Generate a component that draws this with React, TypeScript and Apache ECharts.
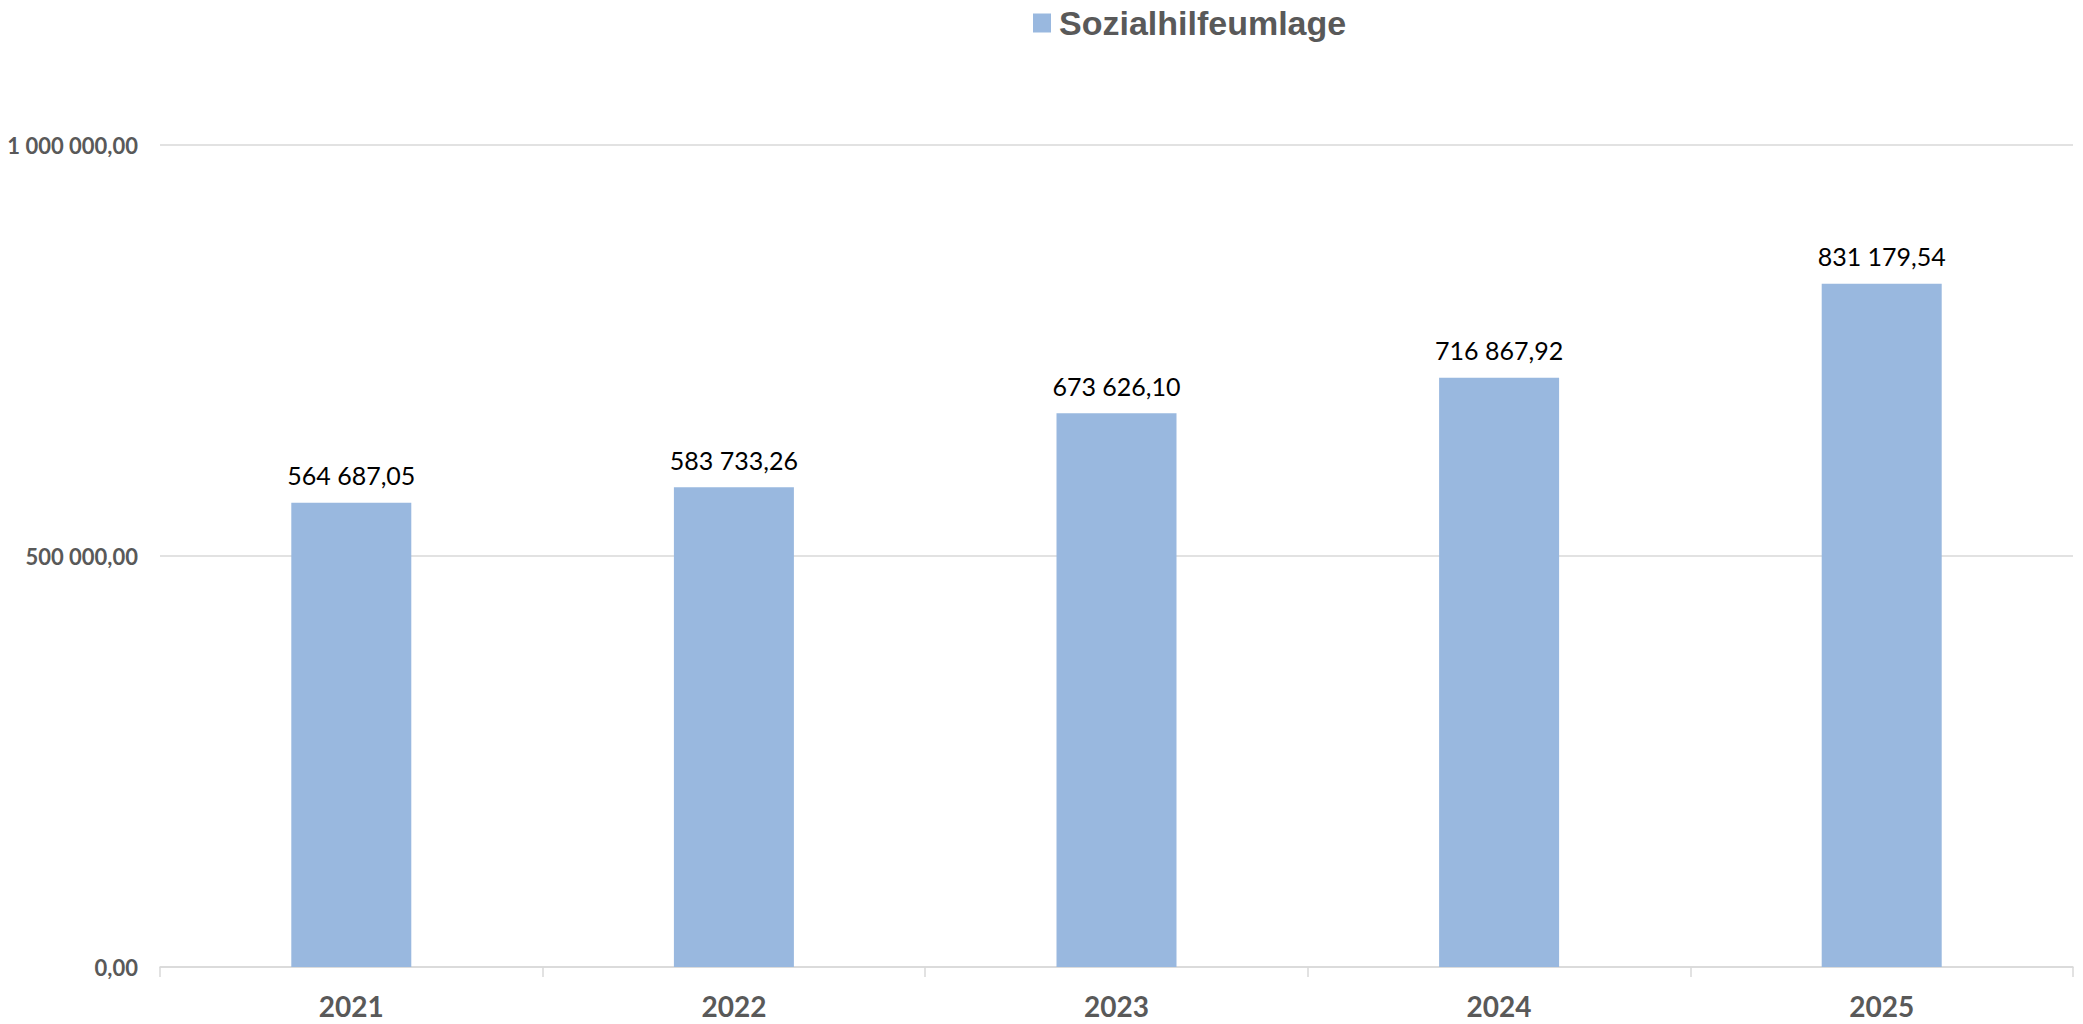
import React, { useEffect, useRef } from "react";
import * as echarts from "echarts";

const categories = ["2021", "2022", "2023", "2024", "2025"];
const seriesName = "Sozialhilfeumlage";
const values = [564687.05, 583733.26, 673626.1, 716867.92, 831179.54];
const yMin = 0;
const yMax = 1000000;
const yInterval = 500000;

function fmt(v: number): string {
  const [i, d] = Math.abs(v).toFixed(2).split(".");
  const grouped = i.replace(/\B(?=(\d{3})+(?!\d))/g, " ");
  return (v < 0 ? "-" : "") + grouped + "," + d;
}

export default function App() {
  const ref = useRef<HTMLDivElement>(null);
  useEffect(() => {
    if (!ref.current) return;
    const chart = echarts.init(ref.current, null, { renderer: "svg" });
    chart.setOption({
      animation: false,
      backgroundColor: "#ffffff",
      legend: {
        show: true,
        left: 1033,
        top: 5,
        padding: 0,
        icon: "rect",
        itemWidth: 18,
        itemHeight: 19,
        data: [seriesName],
        textStyle: {
          fontFamily: "Liberation Sans",
          fontWeight: "bold",
          fontSize: 34,
          color: "#595959",
          lineHeight: 36,
          padding: [0, 0, 0, 3],
        },
      },
      grid: { left: 160, right: 10, top: 145, bottom: 57, containLabel: false },
      xAxis: {
        type: "category",
        data: categories,
        boundaryGap: true,
        axisLine: { show: true, lineStyle: { color: "#d9d9d9", width: 1.5 } },
        axisTick: { show: true, length: 10, alignWithLabel: false, lineStyle: { color: "#d9d9d9", width: 1.5 } },
        axisLabel: {
          margin: 25,
          fontFamily: "Lato",
          fontWeight: "bold",
          fontSize: 28,
          color: "#595959",
        },
      },
      yAxis: {
        type: "value",
        min: yMin,
        max: yMax,
        interval: yInterval,
        axisLine: { show: false },
        axisTick: { show: false },
        splitLine: { show: true, lineStyle: { color: "#d9d9d9", width: 1.5 } },
        axisLabel: {
          margin: 22,
          fontFamily: "Lato",
          fontWeight: "bold",
          fontSize: 22,
          color: "#595959",
          formatter: (v: number) => fmt(v),
        },
      },
      series: [
        {
          name: seriesName,
          type: "bar",
          data: values,
          barWidth: 120,
          itemStyle: { color: "#99B8DF" },
          label: {
            show: true,
            position: "top",
            distance: 15,
            fontFamily: "Lato",
            fontSize: 25,
            color: "#000000",
            formatter: (p: any) => fmt(p.value),
          },
        },
      ],
    });
    return () => chart.dispose();
  }, []);
  return (
    <div
      ref={ref}
      style={{ position: "fixed", left: 0, top: 0, width: "2083px", height: "1024px" }}
    />
  );
}
